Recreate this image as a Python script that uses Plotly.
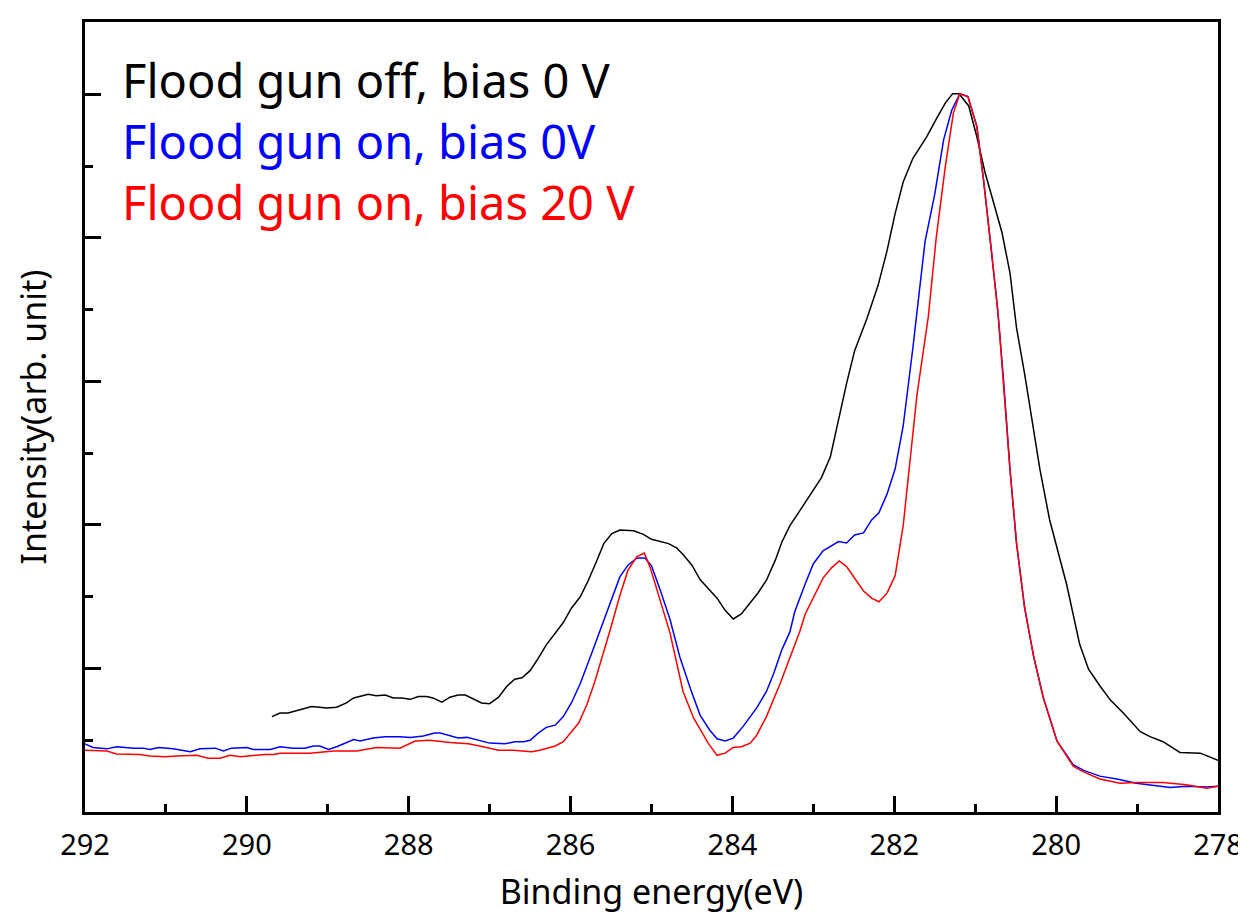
import plotly.graph_objects as go

# Binding energy (eV) and normalized intensity (arb. unit)
off_x = [289.69, 289.59, 289.49, 289.20, 289.01, 288.89, 288.77, 288.68, 288.50, 288.40,
         288.29, 288.19, 288.09, 287.98, 287.88, 287.78, 287.70, 287.59, 287.49, 287.39,
         287.30, 287.20, 287.10, 287.00, 286.89, 286.79, 286.69, 286.60, 286.50, 286.40,
         286.30, 286.09, 285.99, 285.88, 285.78, 285.68, 285.59, 285.49, 285.39, 285.22,
         285.10, 285.00, 284.90, 284.79, 284.69, 284.61, 284.50, 284.40, 284.28, 284.19,
         284.09, 283.99, 283.89, 283.78, 283.68, 283.58, 283.47, 283.39, 283.29, 283.12,
         282.90, 282.79, 282.67, 282.59, 282.49, 282.34, 282.20, 282.09, 281.99, 281.89,
         281.77, 281.60, 281.48, 281.37, 281.28, 281.20, 281.08, 280.98, 280.88, 280.78,
         280.67, 280.57, 280.49, 280.39, 280.28, 280.20, 280.08, 279.87, 279.71, 279.60,
         279.46, 279.33, 279.17, 278.96, 278.84, 278.68, 278.47, 278.22, 278.00]
off_y = [0.133, 0.138, 0.138, 0.147, 0.145, 0.146, 0.152, 0.159, 0.164, 0.162,
         0.163, 0.159, 0.159, 0.157, 0.161, 0.161, 0.159, 0.153, 0.160, 0.163,
         0.163, 0.158, 0.152, 0.151, 0.160, 0.175, 0.185, 0.187, 0.197, 0.214,
         0.233, 0.264, 0.284, 0.300, 0.323, 0.349, 0.374, 0.388, 0.393, 0.392,
         0.387, 0.380, 0.377, 0.374, 0.368, 0.359, 0.344, 0.324, 0.309, 0.298,
         0.281, 0.269, 0.276, 0.291, 0.306, 0.323, 0.351, 0.376, 0.399, 0.428,
         0.466, 0.495, 0.557, 0.597, 0.643, 0.687, 0.734, 0.782, 0.834, 0.878,
         0.911, 0.941, 0.966, 0.988, 1.001, 1.001, 0.984, 0.941, 0.892, 0.853,
         0.808, 0.751, 0.675, 0.611, 0.534, 0.477, 0.407, 0.317, 0.234, 0.199,
         0.176, 0.156, 0.138, 0.112, 0.105, 0.098, 0.083, 0.082, 0.072]

on0_x = [292.00, 291.90, 291.73, 291.61, 291.40, 291.28, 291.20, 291.09, 290.91, 290.70,
         290.58, 290.39, 290.29, 290.19, 290.00, 289.92, 289.71, 289.59, 289.43, 289.28,
         289.18, 289.10, 288.99, 288.89, 288.68, 288.60, 288.44, 288.29, 288.11, 287.98,
         287.82, 287.68, 287.61, 287.49, 287.39, 287.28, 287.08, 287.00, 286.81, 286.69,
         286.58, 286.50, 286.40, 286.30, 286.19, 286.09, 285.99, 285.88, 285.74, 285.57,
         285.39, 285.29, 285.18, 285.08, 285.00, 284.90, 284.77, 284.65, 284.52, 284.40,
         284.28, 284.19, 284.09, 283.99, 283.87, 283.70, 283.58, 283.49, 283.39, 283.29,
         283.23, 283.10, 283.00, 282.88, 282.69, 282.59, 282.49, 282.38, 282.28, 282.19,
         282.09, 281.99, 281.89, 281.77, 281.62, 281.50, 281.39, 281.29, 281.19, 281.09,
         280.98, 280.90, 280.82, 280.73, 280.65, 280.57, 280.49, 280.39, 280.28, 280.16,
         279.99, 279.79, 279.66, 279.46, 279.25, 279.01, 278.59, 278.39, 278.14, 278.00]
on0_y = [0.095, 0.090, 0.088, 0.091, 0.089, 0.089, 0.087, 0.090, 0.088, 0.084,
         0.088, 0.089, 0.085, 0.089, 0.090, 0.087, 0.087, 0.091, 0.089, 0.089,
         0.092, 0.092, 0.087, 0.091, 0.101, 0.099, 0.103, 0.105, 0.105, 0.104,
         0.106, 0.110, 0.110, 0.106, 0.103, 0.104, 0.098, 0.096, 0.095, 0.098,
         0.098, 0.100, 0.110, 0.118, 0.121, 0.133, 0.152, 0.179, 0.221, 0.272,
         0.328, 0.344, 0.354, 0.354, 0.343, 0.312, 0.268, 0.216, 0.172, 0.135,
         0.114, 0.102, 0.099, 0.103, 0.119, 0.145, 0.168, 0.193, 0.226, 0.251,
         0.279, 0.318, 0.346, 0.364, 0.377, 0.375, 0.386, 0.389, 0.407, 0.417,
         0.443, 0.478, 0.538, 0.647, 0.795, 0.861, 0.937, 0.978, 1.001, 0.997,
         0.956, 0.884, 0.797, 0.709, 0.602, 0.477, 0.375, 0.285, 0.218, 0.160,
         0.099, 0.066, 0.058, 0.050, 0.046, 0.040, 0.034, 0.036, 0.035, 0.036]

on20_x = [292.00, 291.73, 291.61, 291.44, 291.32, 291.20, 291.01, 290.87, 290.62, 290.48,
          290.33, 290.21, 290.08, 289.78, 289.67, 289.59, 289.22, 288.93, 288.64, 288.40,
          288.11, 287.92, 287.74, 287.49, 287.26, 287.08, 286.89, 286.71, 286.48, 286.38,
          286.19, 286.09, 285.90, 285.80, 285.70, 285.51, 285.39, 285.29, 285.18, 285.09,
          285.02, 284.92, 284.77, 284.61, 284.48, 284.30, 284.19, 284.09, 283.99, 283.89,
          283.78, 283.70, 283.58, 283.41, 283.29, 283.17, 283.10, 282.98, 282.88, 282.77,
          282.68, 282.59, 282.49, 282.38, 282.28, 282.19, 282.09, 281.99, 281.89, 281.81,
          281.72, 281.58, 281.48, 281.37, 281.27, 281.19, 281.09, 280.98, 280.90, 280.80,
          280.71, 280.65, 280.57, 280.49, 280.39, 280.28, 280.16, 279.99, 279.79, 279.66,
          279.46, 279.21, 279.01, 278.68, 278.39, 278.14, 278.00]
on20_y = [0.086, 0.085, 0.081, 0.081, 0.080, 0.078, 0.077, 0.078, 0.079, 0.075,
          0.075, 0.079, 0.077, 0.080, 0.080, 0.082, 0.082, 0.085, 0.085, 0.090,
          0.089, 0.099, 0.100, 0.097, 0.095, 0.091, 0.086, 0.086, 0.084, 0.086,
          0.092, 0.098, 0.124, 0.149, 0.182, 0.254, 0.302, 0.337, 0.356, 0.361,
          0.342, 0.305, 0.249, 0.168, 0.131, 0.096, 0.079, 0.082, 0.090, 0.091,
          0.096, 0.107, 0.133, 0.179, 0.216, 0.251, 0.276, 0.304, 0.326, 0.341,
          0.350, 0.342, 0.326, 0.308, 0.298, 0.293, 0.305, 0.329, 0.399, 0.482,
          0.581, 0.690, 0.802, 0.899, 0.974, 1.001, 0.997, 0.955, 0.883, 0.783,
          0.686, 0.595, 0.477, 0.375, 0.285, 0.218, 0.160, 0.099, 0.064, 0.056,
          0.046, 0.040, 0.041, 0.041, 0.038, 0.033, 0.036]

labels = ["Flood gun off, bias 0 V", "Flood gun on, bias 0V", "Flood gun on, bias 20 V"]
colors = ["#000000", "#0000ff", "#ff0000"]

FONT = "Noto Sans"

fig = go.Figure()
fig.add_trace(go.Scatter(x=off_x, y=off_y, mode="lines", name=labels[0],
                         line=dict(color=colors[0], width=1.5)))
fig.add_trace(go.Scatter(x=on0_x, y=on0_y, mode="lines", name=labels[1],
                         line=dict(color=colors[1], width=1.5)))
fig.add_trace(go.Scatter(x=on20_x, y=on20_y, mode="lines", name=labels[2],
                         line=dict(color=colors[2], width=1.5)))

# one left-aligned, three-line annotation with coloured lines
label_text = "<br>".join(
    f"<span style='color:{c}'>{t}</span>" for t, c in zip(labels, colors)
)
fig.add_annotation(text=label_text, xref="paper", yref="paper", x=0.031, y=0.849,
                   xanchor="left", yanchor="middle", align="left", showarrow=False,
                   font=dict(family=FONT, size=47, color="black"))

fig.update_layout(
    width=1238, height=906,
    margin=dict(l=77, r=28, t=14, b=102),
    paper_bgcolor="white", plot_bgcolor="white",
    showlegend=False,
    font=dict(family=FONT, color="black"),
)
fig.update_xaxes(
    range=[292, 278], dtick=2, tick0=278, automargin=False,
    showgrid=False, zeroline=False,
    showline=True, linecolor="black", linewidth=3, mirror=True,
    ticks="inside", ticklen=16, tickwidth=3, tickcolor="black",
    minor=dict(dtick=1, ticks="inside", ticklen=8, tickwidth=3, tickcolor="black", showgrid=False),
    tickfont=dict(family=FONT, size=29, color="black"),
    ticklabelstandoff=5,
    title=dict(text="Binding energy(eV)", font=dict(family=FONT, size=34, color="black"), standoff=24),
)
fig.update_yaxes(
    range=[0, 1.101], dtick=0.2, tick0=0, automargin=False,
    showgrid=False, zeroline=False,
    showline=True, linecolor="black", linewidth=3, mirror=True,
    ticks="inside", ticklen=16, tickwidth=3, tickcolor="black",
    minor=dict(dtick=0.1, ticks="inside", ticklen=8, tickwidth=3, tickcolor="black", showgrid=False),
    showticklabels=False,
    title=dict(text="Intensity(arb. unit)", font=dict(family=FONT, size=34, color="black"), standoff=26),
)

fig.write_html("out.html")
